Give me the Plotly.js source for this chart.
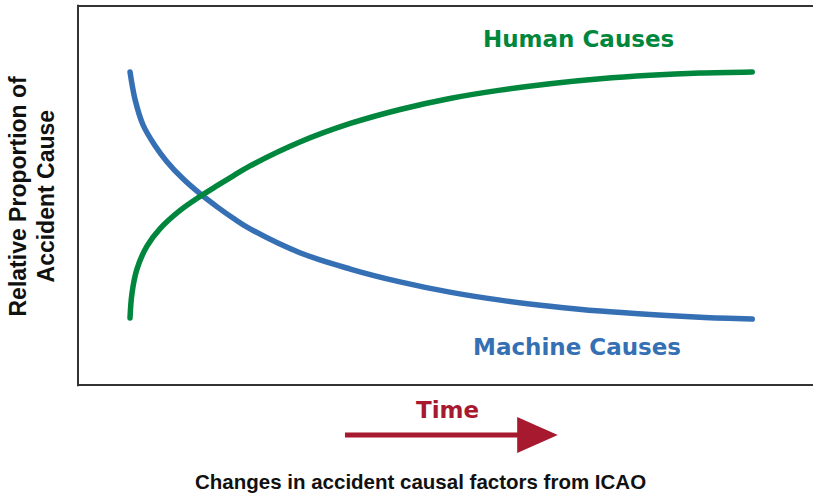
<!DOCTYPE html>
<html>
<head>
<meta charset="utf-8">
<script src="https://cdn.plot.ly/plotly-3.0.1.min.js"></script>
<style>
  html, body { margin: 0; padding: 0; background: #fff; overflow: hidden; }
  #chart { width: 830px; height: 494px; }
  path.js-line { stroke-linecap: round; stroke-linejoin: round; }
</style>
</head>
<body>
<div id="chart"></div>
<script>
// Time (relative units) and relative proportion of accident cause (relative units)
const time = [0, 0.8, 2.1, 4.0, 5.9, 8.4, 11.3, 14.0, 16.6, 19.3, 27.3, 35.4, 43.4, 51.4, 59.5, 67.5, 75.6, 83.6, 91.6, 100];
const machineCauses = [82.6, 75.4, 68.6, 63.2, 59.0, 54.6, 50.4, 47.0, 44.0, 41.2, 34.9, 30.6, 27.2, 24.5, 22.4, 20.8, 19.5, 18.6, 17.9, 17.4];
const humanTime = [0, 0.3, 1.1, 2.7, 4.8, 8.0, 11.3, 14.0, 16.6, 19.3, 27.3, 35.4, 43.4, 51.4, 59.5, 67.5, 75.6, 83.6, 91.6, 100];
const humanCauses = [17.7, 24.0, 30.5, 36.6, 41.2, 46.0, 49.8, 52.6, 55.2, 57.8, 64.1, 69.0, 72.7, 75.6, 77.8, 79.5, 80.8, 81.7, 82.3, 82.6];
const seriesNames = ["Human Causes", "Machine Causes"];
const yTitleLines = ["Relative Proportion of", "Accident Cause"];
const timeLabel = "Time";
const caption = "Changes in accident causal factors from ICAO";

const green = "#00873D";
const blue = "#3670B4";
const red = "#A6192E";
const frame = "#333";

const traces = [
  { x: time, y: machineCauses, mode: "lines", name: seriesNames[1],
    line: { color: blue, width: 5.5, shape: "spline", smoothing: 1 }, hoverinfo: "skip" },
  { x: humanTime, y: humanCauses, mode: "lines", name: seriesNames[0],
    line: { color: green, width: 5.5, shape: "spline", smoothing: 1 }, hoverinfo: "skip" }
];

const layout = {
  width: 830, height: 494,
  margin: { l: 78, r: 0, t: 6, b: 109 },
  paper_bgcolor: "#fff", plot_bgcolor: "#fff",
  showlegend: false,
  xaxis: { range: [-8.36, 112.5], showgrid: false, zeroline: false, showticklabels: false, ticks: "",
           showline: false, fixedrange: true },
  yaxis: { range: [0, 100], showgrid: false, zeroline: false, showticklabels: false, ticks: "",
           showline: false, fixedrange: true },
  annotations: [
    { text: "<b>" + seriesNames[0] + "</b>", x: 72.0, y: 91.3, xref: "x", yref: "y", showarrow: false,
      xanchor: "center", yanchor: "middle", font: { family: "DejaVu Sans", size: 23, color: green } },
    { text: "<b>" + seriesNames[1] + "</b>", x: 71.9, y: 10.0, xref: "x", yref: "y", showarrow: false,
      xanchor: "center", yanchor: "middle", font: { family: "DejaVu Sans", size: 23, color: blue } },
    { text: "<b>" + yTitleLines[0] + "</b>", x: -0.0798, y: 0.50, xref: "paper", yref: "paper", showarrow: false,
      textangle: -90, xanchor: "center", yanchor: "middle", font: { family: "Liberation Sans, Arial", size: 23, color: "#111" } },
    { text: "<b>" + yTitleLines[1] + "</b>", x: -0.0426, y: 0.50, xref: "paper", yref: "paper", showarrow: false,
      textangle: -90, xanchor: "center", yanchor: "middle", font: { family: "Liberation Sans, Arial", size: 23, color: "#111" } },
    { text: "<b>" + timeLabel + "</b>", x: 0.492, y: -0.066, xref: "paper", yref: "paper", showarrow: false,
      xanchor: "center", yanchor: "middle", font: { family: "DejaVu Sans", size: 23, color: red } },
    { text: "<b>" + caption + "</b>", x: 0.4555, y: -0.255, xref: "paper", yref: "paper", showarrow: false,
      xanchor: "center", yanchor: "middle", font: { family: "Liberation Sans, Arial", size: 20.5, color: "#111" } }
  ],
  shapes: [
    // frame: left, top, bottom (right side open, runs to the picture edge)
    { type: "line", xref: "paper", yref: "paper", x0: 0, x1: 0, y0: -0.003, y1: 1.003, line: { color: frame, width: 2 } },
    { type: "line", xref: "paper", yref: "paper", x0: 0, x1: 0.978, y0: 1, y1: 1, line: { color: frame, width: 2 } },
    { type: "line", xref: "paper", yref: "paper", x0: 0, x1: 0.978, y0: 0, y1: 0, line: { color: frame, width: 2 } },
    // time arrow
    { type: "line", xref: "paper", yref: "paper", x0: 0.355, x1: 0.587, y0: -0.132, y1: -0.132,
      line: { color: red, width: 5 } },
    { type: "path", xref: "paper", yref: "paper",
      path: "M 0.584 -0.0844 L 0.584 -0.1794 L 0.638 -0.132 Z",
      fillcolor: red, line: { color: red, width: 0 } }
  ]
};

Plotly.newPlot("chart", traces, layout, { staticPlot: true, displayModeBar: false });
</script>
</body>
</html>
